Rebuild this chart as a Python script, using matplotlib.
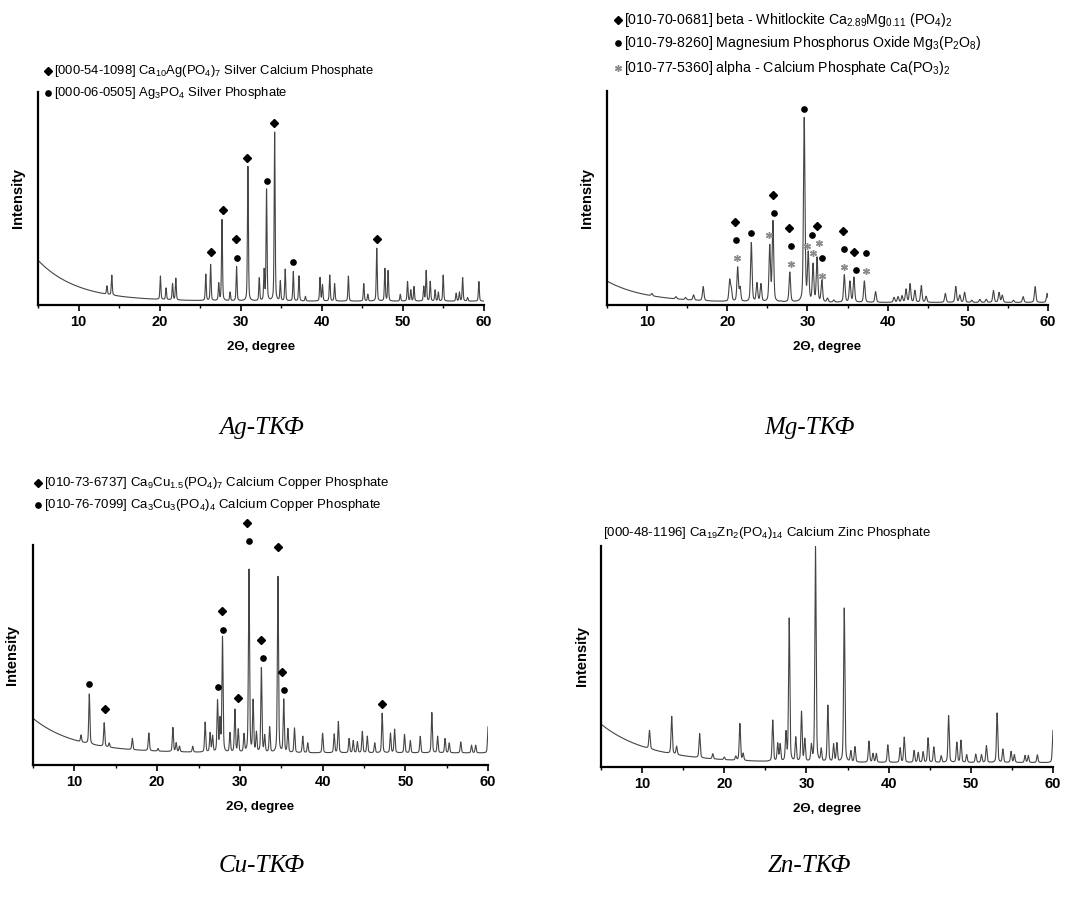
import numpy as np
import matplotlib
matplotlib.use("Agg")
import matplotlib.pyplot as plt

plt.rcParams["font.family"] = ["Liberation Sans", "DejaVu Sans"]
plt.rcParams["mathtext.fontset"] = "custom"
plt.rcParams["mathtext.rm"] = "Liberation Sans"
plt.rcParams["mathtext.it"] = "Liberation Sans:italic"
plt.rcParams["mathtext.bf"] = "Liberation Sans:bold"
plt.rcParams["mathtext.default"] = "regular"

# ---- Ag-TKF ----
ag_bg = (0.018, 0.192, 4.8)  # floor, amplitude at 5 deg, decay
ag_pos = [13.5, 14.1, 20.1, 20.8, 21.6, 22.0, 25.7, 26.3, 27.3, 27.7, 28.7, 29.5, 30.9, 32.3,
          32.9, 33.2, 34.2, 34.9, 35.5, 36.5, 37.2, 38.0, 39.8, 40.1, 41.0, 41.6, 43.3, 45.2,
          45.7, 46.8, 47.8, 48.2, 49.7, 50.6, 51.0, 51.4, 52.6, 52.9, 53.4, 54.0, 54.4, 55.0,
          56.6, 57.0, 57.4, 58.0, 59.4]
ag_top = [0.09, 0.14, 0.136, 0.08, 0.10, 0.125, 0.144, 0.19, 0.10, 0.40, 0.06, 0.18, 0.65, 0.125,
          0.16, 0.54, 0.81, 0.11, 0.167, 0.156, 0.136, 0.04, 0.128, 0.094, 0.14, 0.10, 0.136, 0.10,
          0.05, 0.266, 0.17, 0.16, 0.05, 0.11, 0.07, 0.086, 0.086, 0.16, 0.11, 0.07, 0.06, 0.14,
          0.055, 0.06, 0.128, 0.035, 0.11]
ag_diamond_x = [26.3, 27.8, 29.4, 30.8, 34.1, 46.8]
ag_diamond_y = [0.247, 0.444, 0.31, 0.69, 0.856, 0.31]
ag_circle_x = [29.6, 33.3, 36.5]
ag_circle_y = [0.223, 0.58, 0.203]
ag_legend = ["[000-54-1098] Ca$_{10}$Ag(PO$_4$)$_7$ Silver Calcium Phosphate",
             "[000-06-0505] Ag$_3$PO$_4$ Silver Phosphate"]

# ---- Mg-TKF ----
mg_bg = (0.012, 0.100, 4.8)
mg_pos = [10.6, 13.6, 14.8, 15.8, 17.0, 20.3, 20.5, 21.3, 21.6, 23.0, 23.7, 24.2, 25.3, 25.7,
          26.7, 27.8, 29.6, 30.1, 30.7, 31.2, 31.8, 32.5, 33.3, 34.6, 35.3, 35.8, 37.1, 38.5,
          40.8, 41.3, 41.8, 42.3, 42.8, 43.4, 44.2, 44.8, 47.2, 48.5, 49.0, 49.6, 50.5, 51.5,
          52.3, 53.2, 53.9, 54.3, 55.7, 56.9, 58.4, 59.9]
mg_top = [0.054, 0.039, 0.035, 0.047, 0.086, 0.112, 0.07, 0.174, 0.078, 0.29, 0.10, 0.096, 0.272, 0.387,
          0.016, 0.152, 0.871, 0.233, 0.185, 0.218, 0.112, 0.03, 0.022, 0.14, 0.109, 0.128, 0.112, 0.062,
          0.035, 0.038, 0.042, 0.073, 0.098, 0.067, 0.09, 0.04, 0.054, 0.086, 0.045, 0.059, 0.022, 0.026,
          0.026, 0.067, 0.058, 0.045, 0.022, 0.039, 0.086, 0.054]
mg_diamond_x = [21.0, 25.7, 27.7, 31.2, 34.4, 35.8]
mg_diamond_y = [0.387, 0.513, 0.362, 0.369, 0.347, 0.249]
mg_circle_x = [21.1, 22.9, 25.8, 27.9, 29.6, 30.6, 31.8, 34.6, 36.0, 37.3]
mg_circle_y = [0.302, 0.337, 0.431, 0.277, 0.918, 0.327, 0.218, 0.261, 0.166, 0.241]
mg_star_x = [21.2, 25.2, 27.9, 30.0, 30.7, 31.4, 31.8, 34.6, 37.3]
mg_star_y = [0.221, 0.327, 0.194, 0.277, 0.244, 0.288, 0.135, 0.179, 0.159]
mg_legend = ["[010-70-0681] beta - Whitlockite Ca$_{2.89}$Mg$_{0.11}$ (PO$_4$)$_2$",
             "[010-79-8260] Magnesium Phosphorus Oxide Mg$_3$(P$_2$O$_8$)",
             "[010-77-5360] alpha - Calcium Phosphate Ca(PO$_3$)$_2$"]

# ---- Cu-TKF ----
cu_bg = (0.055, 0.157, 5.1)
cu_pos = [10.8, 11.8, 13.6, 14.2, 17.0, 18.9, 19.0, 20.1, 21.9, 22.3, 22.7, 24.3, 25.8, 26.4,
          26.7, 27.3, 27.6, 27.9, 28.8, 29.4, 29.8, 30.5, 31.1, 31.6, 32.0, 32.6, 33.0, 33.6,
          34.6, 35.3, 35.8, 36.6, 37.6, 38.2, 40.0, 41.4, 41.9, 43.2, 43.7, 44.2, 44.8, 45.4,
          46.3, 47.2, 48.2, 48.7, 49.9, 50.6, 51.8, 53.2, 53.9, 54.8, 55.3, 56.7, 58.0, 58.5, 60.0]
cu_top = [0.136, 0.323, 0.192, 0.10, 0.121, 0.07, 0.144, 0.075, 0.17, 0.10, 0.085, 0.085, 0.194, 0.144,
          0.13, 0.288, 0.20, 0.578, 0.144, 0.25, 0.159, 0.136, 0.886, 0.288, 0.144, 0.439, 0.13, 0.17,
          0.855, 0.295, 0.162, 0.167, 0.13, 0.10, 0.144, 0.14, 0.197, 0.12, 0.11, 0.105, 0.152, 0.13,
          0.10, 0.235, 0.144, 0.162, 0.139, 0.11, 0.13, 0.238, 0.13, 0.12, 0.10, 0.105, 0.09, 0.09, 0.174]
cu_diamond_x = [13.65, 27.9, 29.75, 30.9, 32.6, 34.6, 35.1, 47.2]
cu_diamond_y = [0.256, 0.70, 0.306, 1.10, 0.568, 0.992, 0.424, 0.279]
cu_circle_x = [11.75, 27.4, 28.0, 31.1, 32.8, 35.3]
cu_circle_y = [0.368, 0.353, 0.615, 1.018, 0.485, 0.339]
cu_legend = ["[010-73-6737] Ca$_9$Cu$_{1.5}$(PO$_4$)$_7$ Calcium Copper Phosphate",
             "[010-76-7099] Ca$_3$Cu$_3$(PO$_4$)$_4$ Calcium Copper Phosphate"]

# ---- Zn-TKF ----
zn_bg = (0.020, 0.174, 5.8)
zn_pos = [10.9, 13.6, 14.2, 17.0, 18.6, 20.0, 21.4, 21.9, 22.3, 25.9, 26.5, 26.8, 27.5, 27.9,
          28.7, 29.4, 29.8, 30.6, 31.1, 31.8, 32.6, 33.3, 33.7, 34.6, 35.4, 35.9, 37.6, 38.1,
          38.5, 39.9, 41.4, 41.9, 43.1, 43.6, 44.2, 44.8, 45.5, 46.4, 47.3, 48.3, 48.8, 49.5,
          50.6, 51.3, 51.9, 53.2, 53.9, 54.9, 55.3, 56.6, 57.0, 58.1, 60.0]
zn_top = [0.166, 0.229, 0.093, 0.151, 0.06, 0.045, 0.048, 0.196, 0.06, 0.211, 0.104, 0.10, 0.151, 0.67,
          0.131, 0.248, 0.123, 0.093, 0.994, 0.078, 0.277, 0.10, 0.105, 0.718, 0.07, 0.09, 0.116, 0.06,
          0.06, 0.10, 0.086, 0.134, 0.074, 0.065, 0.068, 0.131, 0.09, 0.05, 0.232, 0.111, 0.12, 0.055,
          0.058, 0.055, 0.096, 0.244, 0.08, 0.07, 0.055, 0.052, 0.052, 0.055, 0.166]
zn_legend = ["[000-48-1196] Ca$_{19}$Zn$_2$(PO$_4$)$_{14}$ Calcium Zinc Phosphate"]

two_theta = np.linspace(5, 60, 5501)


def background(x, bg):
    floor, amp, tau = bg
    return floor + amp * np.exp(-(x - 5) / tau)


def pattern(pos, top, bg, hwhm):
    y = background(two_theta, bg)
    for p, t in zip(pos, top):
        u = (two_theta - p) / hwhm
        shape = 0.6 * np.exp(-np.log(2) * u ** 2) + 0.4 / (1 + u ** 2)
        y = y + (t - background(p, bg)) * shape
    return y


def setup_axes(rect, ylabel_x):
    ax = fig.add_axes(rect)
    ax.set_xlim(5, 60)
    ax.set_ylim(0, 1)
    for side in ["top", "right"]:
        ax.spines[side].set_visible(False)
    ax.spines["left"].set_linewidth(1.6)
    ax.spines["bottom"].set_linewidth(1.6)
    ax.set_yticks([])
    ax.set_xticks([10, 20, 30, 40, 50, 60])
    ax.set_xticks([5, 15, 25, 35, 45, 55], minor=True)
    ax.tick_params(axis="x", which="major", length=4, width=1.2, direction="out", pad=3)
    ax.tick_params(axis="x", which="minor", length=2.5, width=1.0, direction="out")
    for lab in ax.get_xticklabels():
        lab.set_fontweight("bold")
        lab.set_fontsize(10.5)
    ax.set_xlabel("2Θ, degree", fontsize=9.5, fontweight="bold", labelpad=9)
    ax.set_ylabel("Intensity", fontsize=10.5, fontweight="bold")
    ax.yaxis.set_label_coords(ylabel_x, 0.5)
    return ax


def legend_lines(ax, texts, ys, mx, tx, markers, size):
    for txt, y, m in zip(texts, ys, markers):
        if m is not None:
            ax.plot([mx], [y], transform=ax.transAxes, clip_on=False, linestyle="none", **m)
        ax.text(tx, y, txt, transform=ax.transAxes, fontsize=size, va="center", ha="left")


diamond = dict(marker="D", color="black", markersize=4.5)
circle = dict(marker="o", color="black", markersize=3.8)
star = dict(marker=(6, 2, 0), color="#8a8a8a", markersize=5, markeredgewidth=1.0)
line_color = "#454545"

fig = plt.figure(figsize=(10.87, 8.99), dpi=100)

# Ag
ax1 = setup_axes([0.035, 0.6607, 0.410, 0.237], -0.029)
ax1.plot(two_theta, pattern(ag_pos, ag_top, ag_bg, 0.07), color=line_color, lw=0.8)
ax1.plot(ag_diamond_x, ag_diamond_y, linestyle="none", clip_on=False, **diamond)
ax1.plot(ag_circle_x, ag_circle_y, linestyle="none", clip_on=False, **circle)
legend_lines(ax1, ag_legend, [1.099, 0.995], 0.022, 0.036, [diamond, circle], 9.4)
fig.text(0.241, 1 - 428 / 899, "Ag-ТКФ", family="Liberation Serif", style="italic",
         fontsize=18, ha="center", va="center")

# Mg
ax2 = setup_axes([0.5584, 0.6607, 0.4057, 0.238], -0.0295)
ax2.plot(two_theta, pattern(mg_pos, mg_top, mg_bg, 0.11), color=line_color, lw=0.8)
ax2.plot(mg_diamond_x, mg_diamond_y, linestyle="none", clip_on=False, **diamond)
ax2.plot(mg_circle_x, mg_circle_y, linestyle="none", clip_on=False, **circle)
ax2.plot(mg_star_x, mg_star_y, linestyle="none", clip_on=False, **star)
legend_lines(ax2, mg_legend, [1.332, 1.224, 1.107], 0.025, 0.0385, [diamond, circle, star], 10.2)
fig.text(0.745, 1 - 428 / 899, "Mg-ТКФ", family="Liberation Serif", style="italic",
         fontsize=18, ha="center", va="center")

# Cu
ax3 = setup_axes([0.0304, 0.149, 0.4186, 0.2448], -0.031)
ax3.plot(two_theta, pattern(cu_pos, cu_top, cu_bg, 0.08), color=line_color, lw=0.8)
ax3.plot(cu_diamond_x, cu_diamond_y, linestyle="none", clip_on=False, **diamond)
ax3.plot(cu_circle_x, cu_circle_y, linestyle="none", clip_on=False, **circle)
legend_lines(ax3, cu_legend, [1.282, 1.182], 0.011, 0.024, [diamond, circle], 9.5)
fig.text(0.241, 1 - 866 / 899, "Cu-ТКФ", family="Liberation Serif", style="italic",
         fontsize=18, ha="center", va="center")

# Zn
ax4 = setup_axes([0.5529, 0.1468, 0.4158, 0.2459], -0.0265)
ax4.plot(two_theta, pattern(zn_pos, zn_top, zn_bg, 0.09), color=line_color, lw=0.8)
legend_lines(ax4, zn_legend, [1.059], 0.0, 0.004, [None], 9.5)
fig.text(0.745, 1 - 866 / 899, "Zn-ТКФ", family="Liberation Serif", style="italic",
         fontsize=18, ha="center", va="center")

fig.savefig("out.png", dpi=100)
